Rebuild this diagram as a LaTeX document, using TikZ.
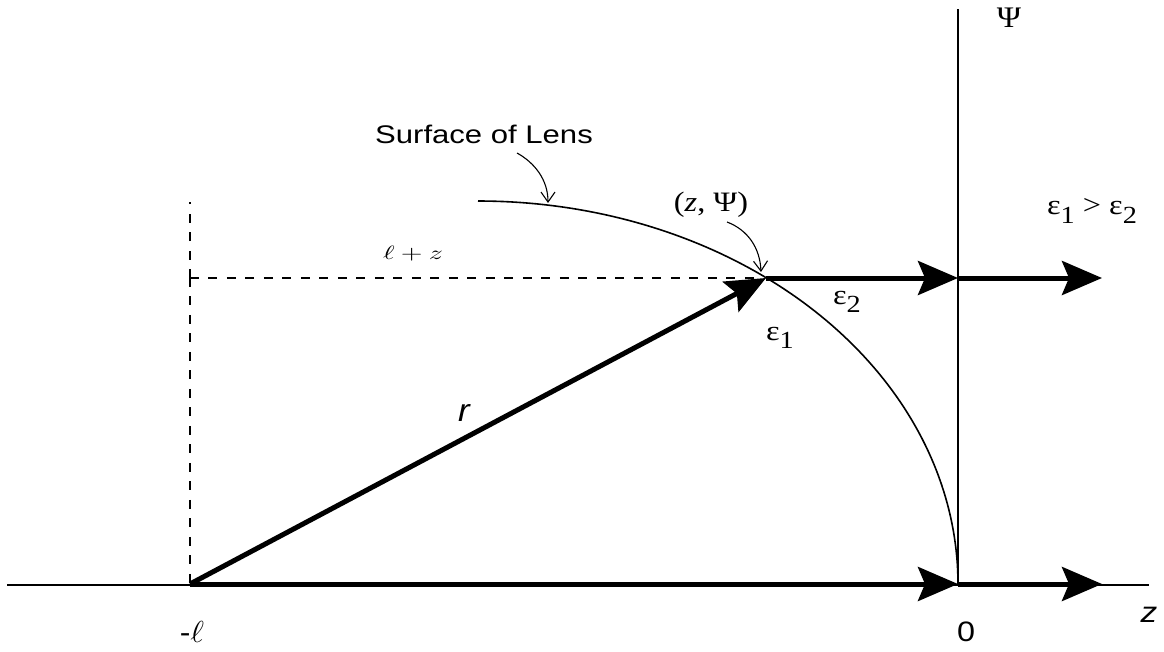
\documentclass[tikz,border=0pt]{standalone}
\usepackage{fontspec}
\setmainfont{Liberation Serif}
\setsansfont{Liberation Sans}
\usetikzlibrary{arrows.meta,calc}
\newcommand{\hs}[2]{\scalebox{#1}[1]{#2}}
\newcommand{\lowsub}[1]{\raisebox{-0.3em}{\fontsize{14}{14}\selectfont #1}}
\begin{document}
\begin{tikzpicture}[x=0.02cm,y=-0.02cm,
  axisline/.style={line width=0.035cm},
  lensline/.style={line width=0.032cm},
  dashline/.style={line width=0.04cm, dash pattern=on 0.18cm off 0.19cm},
  boldarrow/.style={line width=0.1cm, -{Stealth[length=0.8cm,width=0.68cm,inset=0.14cm]}},
  callout/.style={line width=0.022cm, -{Straight Barb[length=0.2cm,width=0.28cm]}},
  lbl/.style={inner sep=0pt},
  serifl/.style={lbl, font=\rmfamily\fontsize{16}{18}\selectfont},
  sansl/.style={lbl, font=\sffamily\fontsize{16}{18}\selectfont}
]
\useasboundingbox (0,0) rectangle (1164,652);
% key points
\coordinate (AL) at (7,585);
\coordinate (AR) at (1149,585);
\coordinate (O) at (190,584);
\coordinate (Z0) at (958,584);
\coordinate (E0) at (1102,584);
\coordinate (Top) at (958,9);
\coordinate (P) at (766,278);
\coordinate (Z1) at (958,278);
\coordinate (E1) at (1102,278);
\coordinate (DC) at (190,278);
\coordinate (DT) at (190,202);
\coordinate (DE) at (754,278);
\coordinate (S1) at (517,153);
\coordinate (S2) at (548,203);
\coordinate (Q1) at (727,222);
\coordinate (Q2) at (761,272);
% axes
\draw[axisline] (AL) -- (AR);
\draw[axisline] (Z0) -- (Top);
% dashed guides
\draw[dashline] (DC) -- (DT);
\draw[dashline] (DC) -- (O);
\draw[dashline] (DC) -- (DE);
% lens surface
\draw[lensline] plot[domain=90:0, samples=90] ({478+480*cos(\x)},{584-383*sin(\x)});
% bold arrows
\draw[boldarrow] (O) -- (P);
\draw[boldarrow] (O) -- (Z0);
\draw[boldarrow] (P) -- (Z1);
\draw[boldarrow] (Z1) -- (E1);
\draw[boldarrow] (Z0) -- (E0);
% labels
\node[lbl, font=\sffamily\fontsize{14.5}{16}\selectfont] (lens) at (484,134) {\hs{1.22}{Surface of Lens}};
\node[serifl] (zpsi) at (711,205) {\hs{1.15}{(\textit{z}, Ψ)}};
\node[serifl, font=\rmfamily\fontsize{17}{19}\selectfont] (psi) at (1009,18) {\hs{1.1}{Ψ}};
\node[serifl] (ineq) at (1092,211) {\hs{1.15}{ε\lowsub{1} > ε\lowsub{2}}};
\node[serifl] (eps2) at (847,302) {\hs{1.15}{ε\lowsub{2}}};
\node[serifl] (eps1) at (780,338) {\hs{1.15}{ε\lowsub{1}}};
\node[lbl, font=\fontsize{11}{13}\selectfont] (lz) at (413,254) {\hs{1.45}{$\ell + z$}};
\node[sansl, font=\sffamily\itshape\fontsize{18}{20}\selectfont] (r) at (464,413) {\hs{1.1}{r}};
\node[sansl, font=\sffamily\fontsize{16.5}{18}\selectfont] (ml) at (192,632) {\hs{1.1}{-$\ell$}};
\node[sansl] (zero) at (966,632) {\hs{1.15}{0}};
\node[sansl, font=\sffamily\itshape\fontsize{16.5}{18}\selectfont] (zax) at (1149,615) {\hs{1.15}{z}};
% callouts
\draw[callout] (S1) .. controls (535,163) and (548,180) .. (S2);
\draw[callout] (Q1) .. controls (748,230) and (760,248) .. (Q2);
\end{tikzpicture}
\end{document}
